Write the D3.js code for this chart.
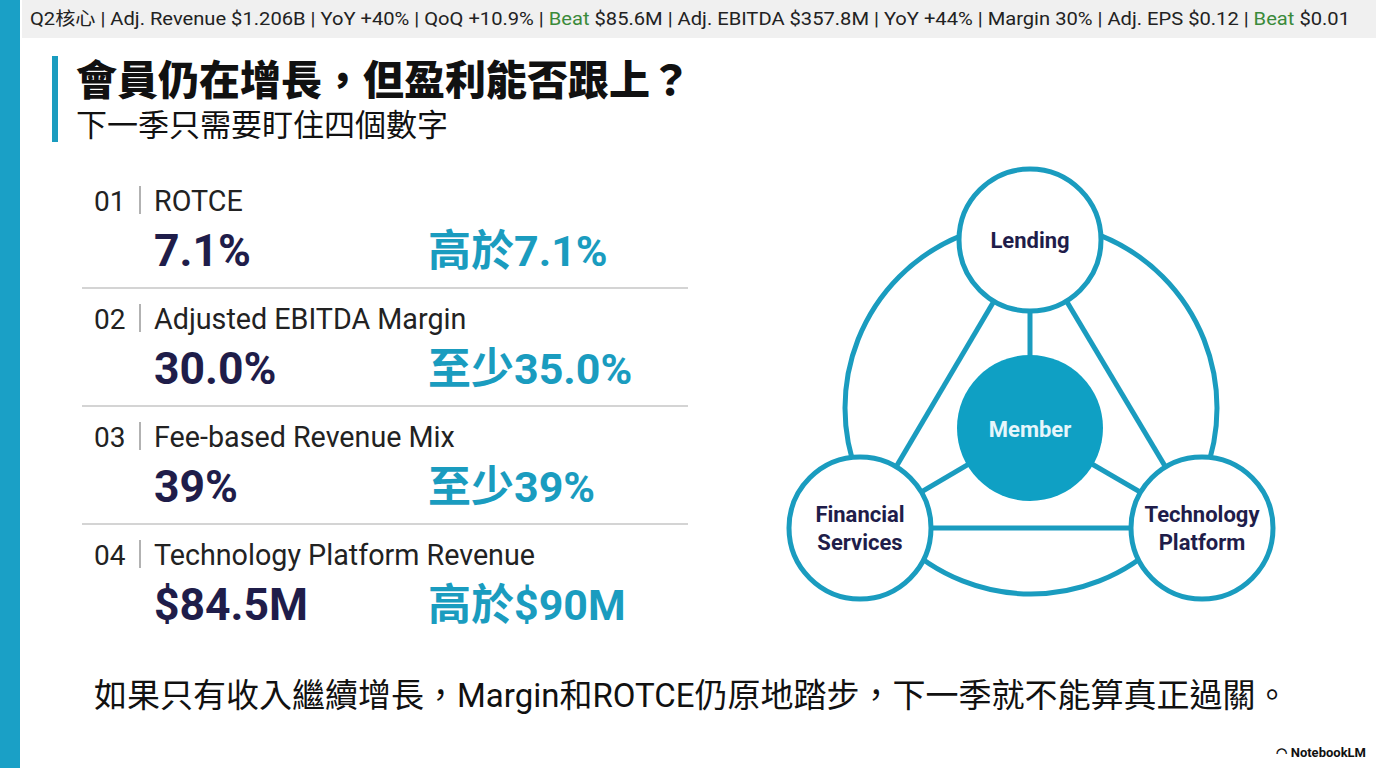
<!DOCTYPE html>
<html><head><meta charset="utf-8">
<script src="https://cdn.jsdelivr.net/npm/d3@7"></script>
<style>body{margin:0;background:#fff}svg{display:block}</style>
</head><body><div id="chart"></div>
<script>
const W = 1376, H = 768;
const tickerParts = [["Q2核心 | Adj. Revenue $1.206B | YoY +40% | QoQ +10.9% | ", 0], ["Beat", 1], [" $85.6M | Adj. EBITDA $357.8M | YoY +44% | Margin 30% | Adj. EPS $0.12 | ", 0], ["Beat", 1], [" $0.01", 0]];
const nums = ["01", "02", "03", "04"];
const metrics = ["ROTCE", "Adjusted EBITDA Margin", "Fee-based Revenue Mix", "Technology Platform Revenue"];
const current = ["7.1%", "30.0%", "39%", "$84.5M"];
const targets = ["高於7.1%", "至少35.0%", "至少39%", "高於$90M"];
const nodes = [{name: ["Lending"], x: 1030, y: 240}, {name: ["Financial", "Services"], x: 860, y: 528}, {name: ["Technology", "Platform"], x: 1202, y: 528}];

const teal = "#1a9cbf", navy = "#1f1d4a", font = "Roboto, 'Noto Sans CJK TC', sans-serif";
const svg = d3.select("#chart").append("svg").attr("width", W).attr("height", H).style("font-family", font);

svg.append("rect").attr("x", 0).attr("y", 0).attr("width", 20).attr("height", H).attr("fill", "#1aa0c6");
svg.append("rect").attr("x", 22).attr("y", 0).attr("width", W - 22).attr("height", 38).attr("fill", "#f0f0f0");
const tk = svg.append("text").attr("x", 30).attr("y", 25).attr("font-size", 18).attr("fill", "#222")
  .attr("textLength", 1320).attr("lengthAdjust", "spacingAndGlyphs");
tk.selectAll("tspan").data(tickerParts).join("tspan").text(d => d[0]).attr("fill", d => d[1] ? "#3a8a3a" : "#222");

svg.append("rect").attr("x", 52).attr("y", 56).attr("width", 6).attr("height", 86).attr("fill", teal);
svg.append("text").attr("x", 76).attr("y", 95).attr("font-size", 41).attr("font-weight", 900).attr("fill", "#111").text("會員仍在增長，但盈利能否跟上？");
svg.append("text").attr("x", 76).attr("y", 136).attr("font-size", 31).attr("fill", "#111").text("下一季只需要盯住四個數字");

const y = d3.scaleBand().domain(d3.range(4)).range([170, 642]);
const rows = svg.append("g").selectAll("g").data(metrics).join("g").attr("transform", (d, i) => `translate(0,${y(i)})`);
rows.append("text").attr("x", 94).attr("y", 41).attr("font-size", 28).attr("fill", "#222").text((d, i) => nums[i]);
rows.append("line").attr("x1", 140).attr("x2", 140).attr("y1", 16).attr("y2", 44).attr("stroke", "#999").attr("stroke-width", 1.5);
rows.append("text").attr("x", 154).attr("y", 41).attr("font-size", 28.7).attr("fill", "#222").text(d => d);
rows.append("text").attr("x", 154).attr("y", 96).attr("font-size", 44.5).attr("font-weight", 700).attr("fill", navy).text((d, i) => current[i]);
rows.append("text").attr("x", 428).attr("y", 96).attr("font-size", 43).attr("font-weight", 700).attr("fill", teal).text((d, i) => targets[i]);
rows.filter((d, i) => i < 3).append("line").attr("x1", 82).attr("x2", 688).attr("y1", 118).attr("y2", 118).attr("stroke", "#d4d4d4").attr("stroke-width", 2);

svg.append("text").attr("x", 94).attr("y", 707).attr("font-size", 33).attr("fill", "#111").text("如果只有收入繼續增長，Margin和ROTCE仍原地踏步，下一季就不能算真正過關。");
svg.append("text").attr("x", 1366).attr("y", 757).attr("text-anchor", "end").attr("font-size", 13).attr("font-weight", 700).attr("fill", "#111").text("◠ NotebookLM");

// diagram
const g = svg.append("g").attr("fill", "none").attr("stroke", teal).attr("stroke-width", 5);
g.append("circle").attr("cx", 1031).attr("cy", 408).attr("r", 186);
d3.pairs(nodes.concat([nodes[0]])).forEach(([a, b]) => g.append("line").attr("x1", a.x).attr("y1", a.y).attr("x2", b.x).attr("y2", b.y));
const mx = 1030, my = 428;
nodes.forEach(p => g.append("line").attr("x1", mx).attr("y1", my).attr("x2", p.x).attr("y2", p.y));
g.append("circle").attr("cx", mx).attr("cy", my).attr("r", 73).attr("fill", "#0fa0c4").attr("stroke", "none");
svg.append("text").attr("x", mx).attr("y", 437).attr("text-anchor", "middle").attr("font-size", 22).attr("font-weight", 700).attr("fill", "#e6f6fb").text("Member");
const nd = svg.append("g").selectAll("g").data(nodes).join("g").attr("transform", d => `translate(${d.x},${d.y})`);
nd.append("circle").attr("r", 71).attr("fill", "#fff").attr("stroke", teal).attr("stroke-width", 5);
nd.append("text").attr("text-anchor", "middle").attr("font-size", 22).attr("font-weight", 700).attr("fill", navy)
  .selectAll("tspan").data(d => d.name).join("tspan").attr("x", 0)
  .attr("y", (t, i, a) => 8 + (i - (a.length - 1) / 2) * 28).text(t => t);
</script></body></html>
